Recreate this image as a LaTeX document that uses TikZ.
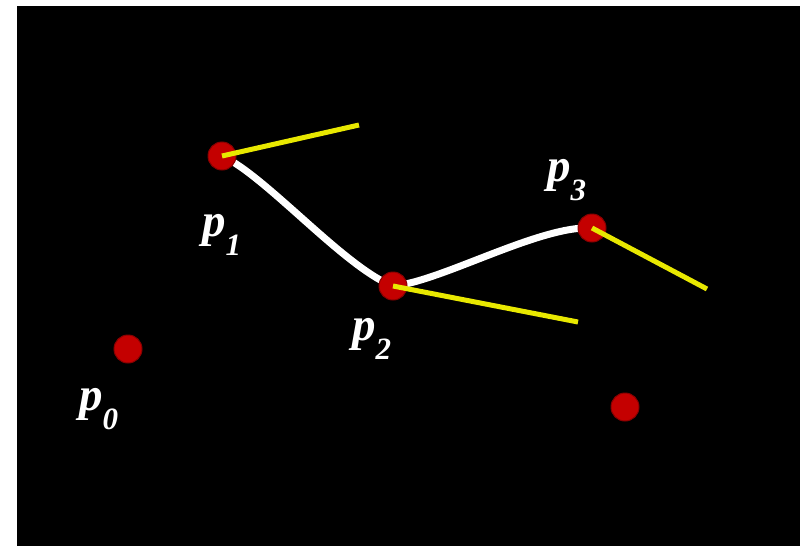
\documentclass[tikz,border=0pt]{standalone}
\usepackage{fontspec}
\setmainfont{Liberation Serif}
\definecolor{dotred}{RGB}{196,0,0}
\definecolor{tanyellow}{RGB}{232,232,0}
\begin{document}
\begin{tikzpicture}[x=1pt,y=-1pt,
  dot/.style={circle,fill=dotred,draw=dotred!70!black,line width=1pt,inner sep=0pt,minimum size=28pt},
  tangent/.style={draw=tanyellow,line width=5pt},
  curve/.style={draw=white,line width=7pt},
  lbl/.style={text=white,anchor=base west,inner sep=0pt,font=\fontsize{47}{47}\selectfont\bfseries\itshape}]
\useasboundingbox (0,0) rectangle (808,546);
\fill[white] (0,0) rectangle (808,546);
\fill[black] (17,6) rectangle (800,546);
% control points
\coordinate (c0) at (128,349);
\coordinate (c1) at (222,156);
\coordinate (c2) at (393,286);
\coordinate (c3) at (592,228);
\coordinate (c4) at (625,407);
% tangent ends
\coordinate (t1) at (359,125);
\coordinate (t2) at (578,322);
\coordinate (t3) at (707,289);
% spline
\draw[curve] (c1) .. controls (265,175) and (345,268) .. (c2)
                  .. controls (440,282) and (540,225) .. (c3);
% dots
\node[dot] (p0) at (c0) {};
\node[dot] (p1) at (c1) {};
\node[dot] (p2) at (c2) {};
\node[dot] (p3) at (c3) {};
\node[dot] (p4) at (c4) {};
% tangents
\draw[tangent] (p1.center) -- (t1);
\draw[tangent] (p2.center) -- (t2);
\draw[tangent] (p3.center) -- (t3);
% labels
\node[lbl] (l0) at (79,410) {p\raisebox{-0.42em}{\fontsize{31}{31}\selectfont 0}};
\node[lbl] (l1) at (202,236) {p\raisebox{-0.42em}{\fontsize{31}{31}\selectfont 1}};
\node[lbl] (l2) at (352,340) {p\raisebox{-0.42em}{\fontsize{31}{31}\selectfont 2}};
\node[lbl] (l3) at (547,181) {p\raisebox{-0.42em}{\fontsize{31}{31}\selectfont 3}};
\end{tikzpicture}
\end{document}
